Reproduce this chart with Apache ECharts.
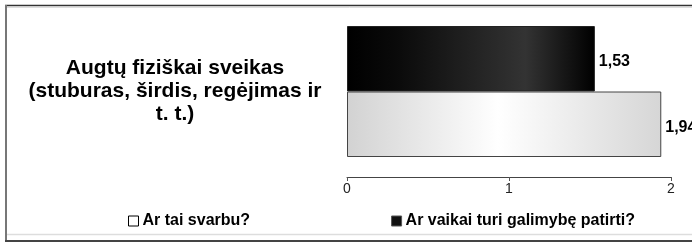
<!DOCTYPE html>
<html>
<head>
<meta charset="utf-8">
<script src="https://cdn.jsdelivr.net/npm/echarts@6/dist/echarts.min.js"></script>
<style>
  html, body { margin: 0; padding: 0; background: #fff; }
  #chart { width: 692px; height: 242px; }
</style>
</head>
<body>
<div id="chart"></div>
<script>
const categories = ['Augtų fiziškai sveikas\n(stuburas, širdis, regėjimas ir\nt. t.)'];
const seriesNames = ['Ar tai svarbu?', 'Ar vaikai turi galimybę patirti?'];
const importantValues = [1.94];
const possibilityValues = [1.53];
const axisTicks = [0, 1, 2];

const font = '"Liberation Sans", Arial, sans-serif';

const darkFill = {
    type: 'linear', x: 0, y: 0, x2: 1, y2: 0,
    colorStops: [
        { offset: 0, color: '#000' },
        { offset: 0.2, color: '#0a0a0a' },
        { offset: 0.72, color: '#333' },
        { offset: 1, color: '#000' }
    ]
};
const lightFill = {
    type: 'linear', x: 0, y: 0, x2: 1, y2: 0,
    colorStops: [
        { offset: 0, color: '#d2d2d2' },
        { offset: 0.48, color: '#ffffff' },
        { offset: 1, color: '#d6d6d6' }
    ]
};

const chart = echarts.init(document.getElementById('chart'), null, { renderer: 'canvas' });

const valueLabel = {
    show: true,
    position: 'right',
    distance: 4,
    offset: [0, 3],
    color: '#000',
    fontFamily: font,
    fontWeight: 'bold',
    fontSize: 16,
    formatter: p => p.value.toFixed(2).replace('.', ',')
};

chart.setOption({
    animation: false,
    backgroundColor: '#fff',
    textStyle: { fontFamily: font },
    graphic: [
        { type: 'line', shape: { x1: 5, y1: 5.5, x2: 692, y2: 5.5 }, style: { stroke: '#333', lineWidth: 1.5 } },
        { type: 'line', shape: { x1: 7, y1: 7.5, x2: 692, y2: 7.5 }, style: { stroke: '#ddd', lineWidth: 1 } },
        { type: 'line', shape: { x1: 6, y1: 5, x2: 6, y2: 242 }, style: { stroke: '#777', lineWidth: 2 } },
        { type: 'line', shape: { x1: 7, y1: 234.5, x2: 692, y2: 234.5 }, style: { stroke: '#ddd', lineWidth: 1.5 } },
        { type: 'line', shape: { x1: 5, y1: 241, x2: 692, y2: 241 }, style: { stroke: '#444', lineWidth: 2 } }
    ],
    legend: {
        data: [
            { name: seriesNames[0], itemStyle: { color: '#fff', borderColor: '#000', borderWidth: 1 } },
            { name: seriesNames[1], itemStyle: { color: '#111', borderColor: '#555', borderWidth: 1 } }
        ],
        left: 123,
        top: 208,
        itemGap: 141,
        itemWidth: 10,
        itemHeight: 10,
        icon: 'rect',
        textStyle: { color: '#000', fontWeight: 'bold', fontSize: 16, fontFamily: font, padding: [0, 0, 0, -1] },
        selectedMode: false
    },
    grid: { left: 347, right: 21, top: 26, bottom: 85, containLabel: false },
    xAxis: {
        type: 'value',
        min: axisTicks[0],
        max: axisTicks[axisTicks.length - 1],
        interval: 1,
        offset: 20,
        axisLine: { show: true, lineStyle: { color: '#444', width: 1 } },
        axisTick: { show: true, length: 4, lineStyle: { color: '#555' } },
        splitLine: { show: false },
        axisLabel: { color: '#222', fontSize: 14, margin: 5, fontFamily: font }
    },
    yAxis: {
        type: 'category',
        data: categories,
        axisLine: { show: false },
        axisTick: { show: false },
        axisLabel: {
            margin: 172,
            align: 'center',
            color: '#000',
            fontSize: 21,
            fontWeight: 'bold',
            lineHeight: 23,
            padding: [8, 0, 0, 0],
            fontFamily: font
        }
    },
    series: [
        {
            name: seriesNames[1],
            type: 'bar',
            data: possibilityValues,
            barGap: '0%',
            barCategoryGap: '0%',
            itemStyle: { color: darkFill, borderColor: '#222', borderWidth: 1 },
            label: valueLabel
        },
        {
            name: seriesNames[0],
            type: 'bar',
            data: importantValues,
            barGap: '0%',
            barCategoryGap: '0%',
            itemStyle: { color: lightFill, borderColor: '#444', borderWidth: 1 },
            label: valueLabel
        }
    ]
});
</script>
</body>
</html>
